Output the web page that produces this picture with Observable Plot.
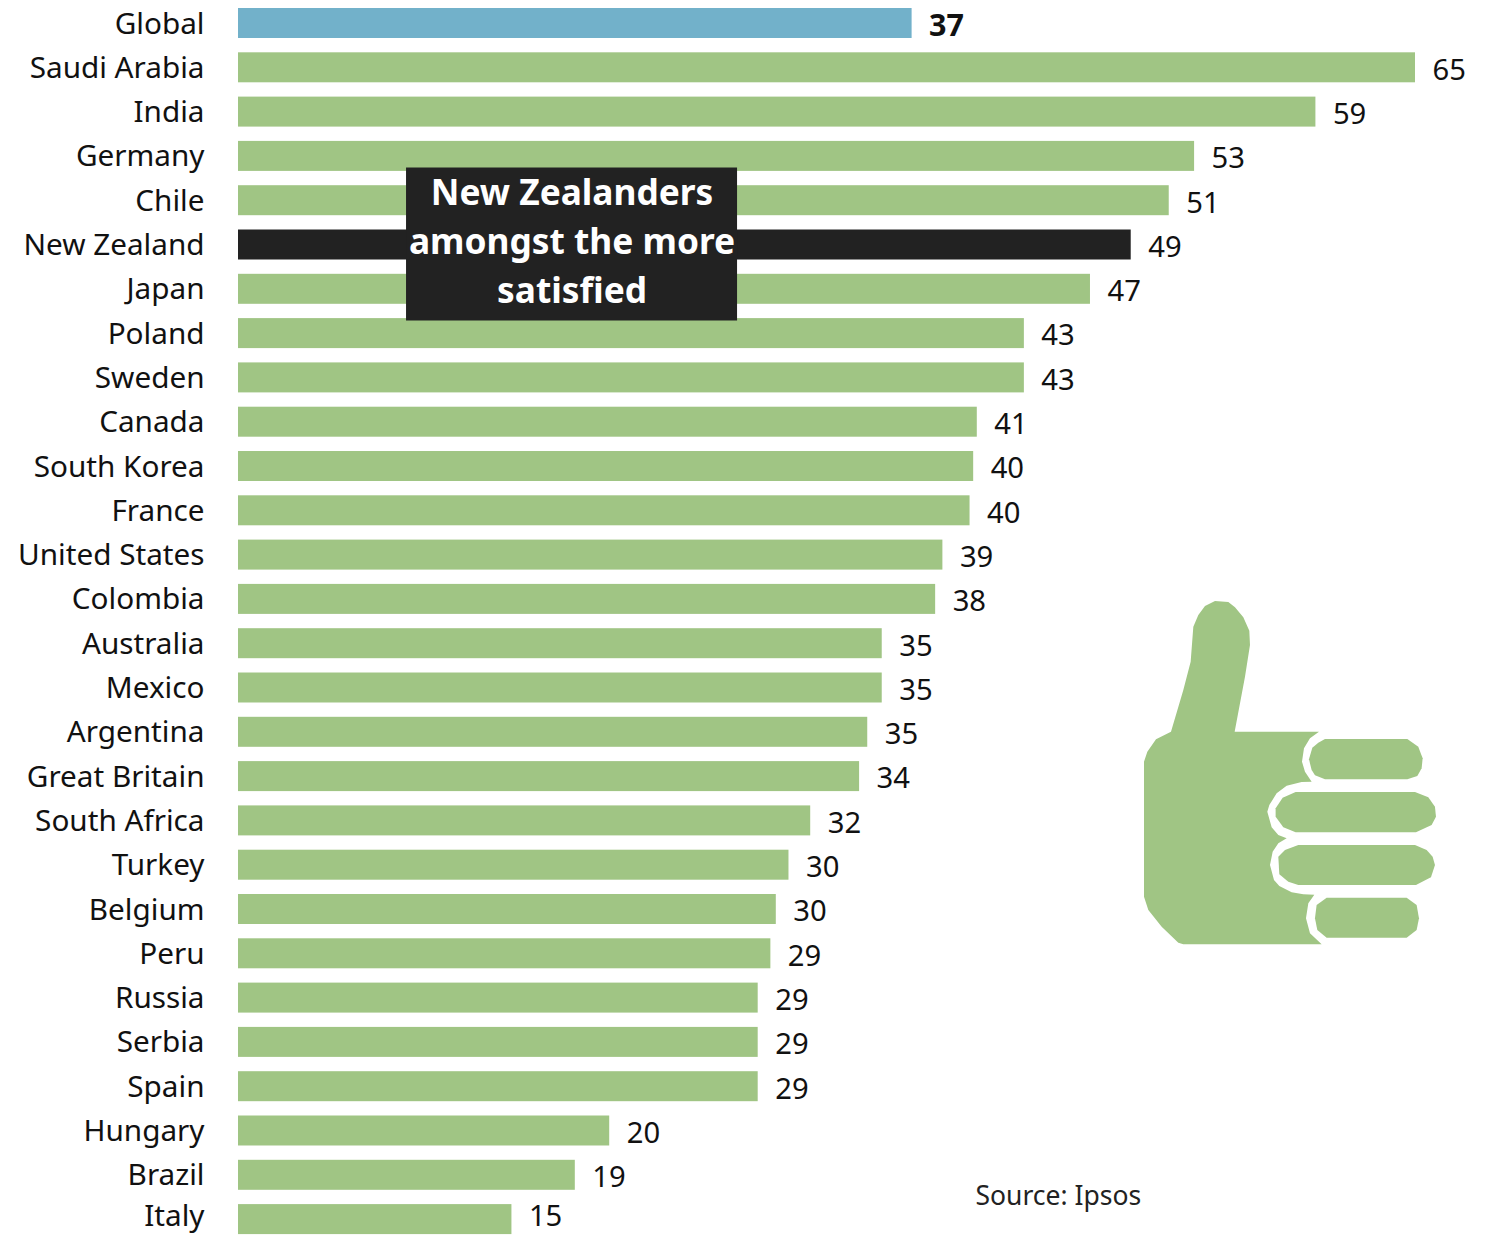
<!DOCTYPE html>
<html><head><meta charset="utf-8">
<script src="https://cdn.jsdelivr.net/npm/d3@7"></script>
<script src="https://cdn.jsdelivr.net/npm/@observablehq/plot@0.6"></script>
<style>html,body{margin:0;padding:0;background:#fff}</style>
</head><body><div id="chart"></div>
<script>
const countries = ["Global","Saudi Arabia","India","Germany","Chile","New Zealand","Japan","Poland","Sweden","Canada","South Korea","France","United States","Colombia","Australia","Mexico","Argentina","Great Britain","South Africa","Turkey","Belgium","Peru","Russia","Serbia","Spain","Hungary","Brazil","Italy"];
const lengths = [37.2,65,59.5,52.8,51.4,49.3,47.05,43.4,43.4,40.8,40.6,40.4,38.9,38.5,35.55,35.55,34.75,34.3,31.6,30.4,29.7,29.4,28.7,28.7,28.7,20.5,18.6,15.1];
const labels = [37,65,59,53,51,49,47,43,43,41,40,40,39,38,35,35,35,34,32,30,30,29,29,29,29,20,19,15];
const calloutLines = "New Zealanders\namongst the more\nsatisfied";
const source = "Source: Ipsos";
const FONT = "'Noto Sans', sans-serif";
const GREEN = "#a0c584", BLUE = "#72b1ca", DARK = "#222222";
const palm = [[42,515],[52,485],[78,448],[123,425],[160,300],[182,215],[190,110],[205,75],[225,48],[255,33],[295,36],[315,52],[340,82],[358,122],[360,165],[345,260],[314,425],[567,425],[540,445],[522,475],[516,515],[525,545],[545,575],[515,576],[470,587],[440,610],[418,645],[412,665],[425,712],[445,735],[470,745],[445,760],[428,785],[420,825],[432,870],[448,888],[485,907],[520,913],[553,914],[535,940],[528,985],[540,1030],[575,1063],[160,1063],[145,1058],[95,1010],[55,960],[42,920]];
const finger1 = [[585,447],[832,447],[865,470],[878,505],[875,535],[862,558],[832,568],[585,568],[555,556],[545,540],[537,508],[547,473],[565,458]];
const finger2 = [[497,606],[855,606],[895,622],[915,650],[918,680],[905,705],[858,727],[497,727],[460,712],[437,680],[437,655],[458,623]];
const finger3 = [[505,765],[855,765],[890,780],[908,800],[915,825],[903,862],[858,885],[505,885],[475,875],[448,853],[445,800],[465,780]];
const finger4 = [[590,923],[830,923],[860,945],[867,985],[860,1020],[830,1043],[590,1043],[562,1020],[555,985],[560,945]];

const rows = countries.map((c,i)=>({c, v:lengths[i], label:labels[i]}));
const colorOf = d => d.c==="Global"?BLUE : d.c==="New Zealand"?DARK : GREEN;
const isLast = d => d.c===countries[countries.length-1];

function thumb(){
  const g = document.createElementNS("http://www.w3.org/2000/svg","g");
  g.setAttribute("transform","translate(1130,590) scale(0.3333)");
  for (const poly of [palm,finger1,finger2,finger3,finger4]){
    const p = document.createElementNS("http://www.w3.org/2000/svg","polygon");
    p.setAttribute("points",poly.map(q=>q.join(",")).join(" "));
    p.setAttribute("fill",GREEN);
    g.appendChild(p);
  }
  return g;
}

const chart = Plot.plot({
  width:1491, height:1235,
  marginLeft:238, marginRight:76, marginTop:0, marginBottom:0,
  style:{fontFamily:FONT, background:"#fff", color:"#111"},
  x:{domain:[0,65], axis:null},
  y:{domain:countries, range:[-6.3,1248.4], padding:0.323, round:false, axis:null},
  marks:[
    Plot.axisY(countries.slice(0,-1),{anchor:"left", tickSize:0, tickPadding:34, fontSize:29.7, label:null, dy:0.5, fill:"#111"}),
    Plot.text(rows.filter(isLast),{x:()=>0, y:"c", text:"c", textAnchor:"end", dx:-34, dy:-3, fontSize:29.7, fill:"#111"}),
    Plot.barX(rows,{x:"v", y:"c", fill:colorOf}),
    Plot.text(rows.filter(d=>d.c!=="Global"&&!isLast(d)),{x:"v", y:"c", text:d=>String(d.label), textAnchor:"start", dx:17, dy:2.5, fontSize:29.2, fill:"#111"}),
    Plot.text(rows.filter(isLast),{x:"v", y:"c", text:d=>String(d.label), textAnchor:"start", dx:17, dy:-2.5, fontSize:29.2, fill:"#111"}),
    Plot.text(rows.filter(d=>d.c==="Global"),{x:"v", y:"c", text:d=>String(d.label), textAnchor:"start", dx:17, dy:2.5, fontSize:30.5, fontWeight:700, fill:"#111"}),
    Plot.barX([{c:"New Zealand"}],{x1:()=>9.28, x2:()=>27.56, y:"c", fill:DARK, insetTop:-62, insetBottom:-61}),
    Plot.text([calloutLines],{x:()=>18.42, y:()=>"New Zealand", text:d=>d, fontSize:35.3, fontWeight:700, fill:"#fff", lineHeight:1.388, dy:-7}),
    Plot.text([source],{x:()=>40.7, y:()=>"Brazil", text:d=>d, textAnchor:"start", dy:21, fontSize:26.5, fill:"#222"}),
    thumb
  ]
});
document.getElementById("chart").appendChild(chart);
</script>
</body></html>
